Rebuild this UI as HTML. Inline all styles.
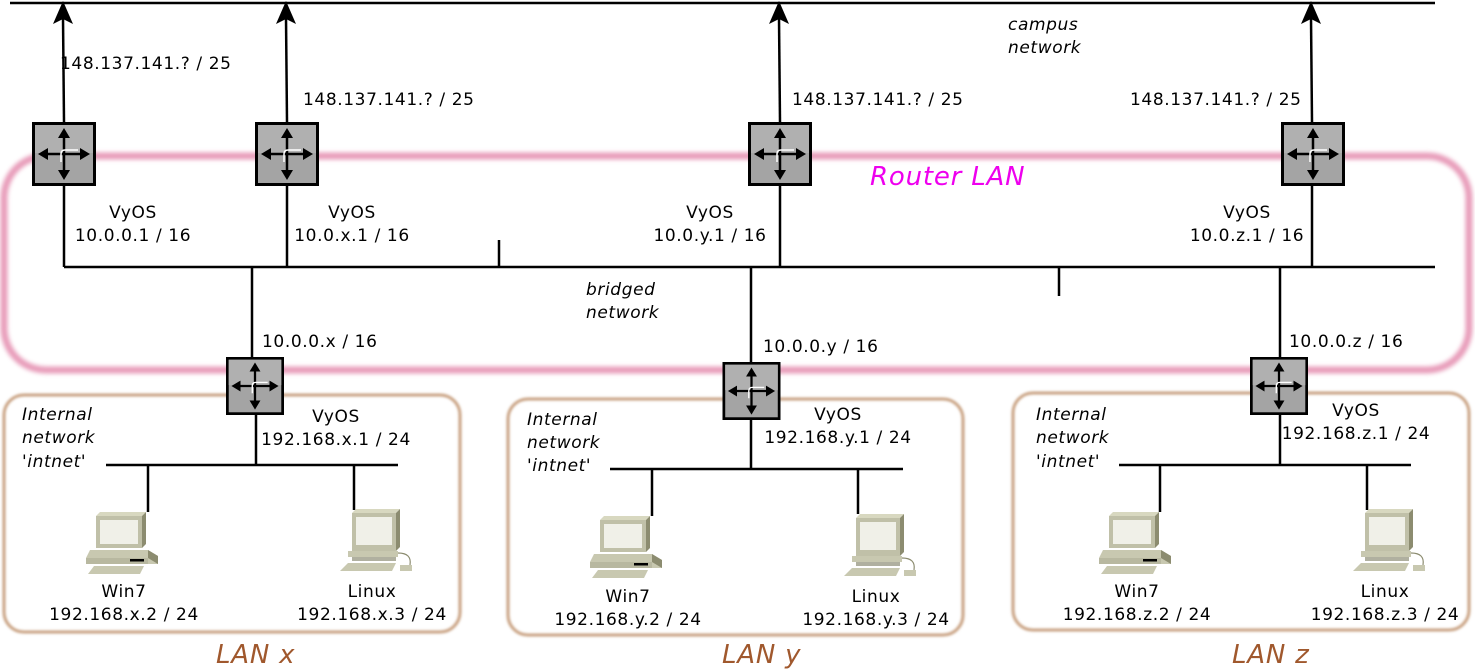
<!DOCTYPE html>
<html><head><meta charset="utf-8"><style>
html,body{margin:0;padding:0;background:#fff;}
svg{display:block;}
text{font-family:"DejaVu Sans","Liberation Sans",sans-serif;font-size:17px;letter-spacing:0.6px;fill:#000;}
.i{font-style:italic;}
</style></head><body>
<svg width="1475" height="671" viewBox="0 0 1475 671" xmlns="http://www.w3.org/2000/svg">
<defs>
<filter id="bl" x="-5%" y="-5%" width="110%" height="110%"><feGaussianBlur stdDeviation="2"/></filter>
<filter id="bl2" x="-5%" y="-5%" width="110%" height="110%"><feGaussianBlur stdDeviation="1.2"/></filter>
<symbol id="rt" viewBox="0 0 64 64">
<rect x="1.5" y="1.5" width="61" height="61" fill="#a4a4a4" stroke="#000" stroke-width="3"/>
<rect x="3" y="3" width="58" height="28" fill="#b0b0b0"/>
<g stroke="#000" stroke-width="2.5" fill="none">
<line x1="32" y1="14" x2="32" y2="50"/><line x1="14" y1="32" x2="50" y2="32"/></g>
<path d="M32,6 L26,16 L38,16Z M32,58 L26,48 L38,48Z M6,32 L16,26 L16,38Z M58,32 L48,26 L48,38Z" fill="#000"/>
<path d="M29,40 V32 Q29,28 33,28 H46" stroke="#fff" stroke-width="1.5" fill="none"/>
</symbol>
<symbol id="win" viewBox="0 0 72 62">
<path d="M4,38 L62,38 L72,44 L72,52 L10,52 L0,46 Z" fill="#c8c8b0"/>
<path d="M62,38 L72,44 L72,52 L62,46Z" fill="#8c8c70"/>
<path d="M0,46 L62,46 L62,52 L0,52Z" fill="#b8b8a0"/>
<rect x="44" y="47" width="14" height="2.5" fill="#000"/>
<path d="M8,54 L58,54 L54,62 L2,62Z" fill="#c8c8b0"/>
<path d="M10,4 L56,4 L60,0 L14,0Z" fill="#d8d8c0"/>
<rect x="10" y="4" width="46" height="32" fill="#c0c0a8"/>
<path d="M56,4 L60,0 L60,32 L56,36Z" fill="#8c8c70"/>
<rect x="14" y="8" width="38" height="24" fill="#f0f0e8"/>
</symbol>
<symbol id="lin" viewBox="0 0 72 62">
<path d="M12,4 L56,4 L60,0 L16,0Z" fill="#d8d8c0"/>
<rect x="12" y="4" width="44" height="38" fill="#c0c0a8"/>
<path d="M56,4 L60,0 L60,38 L56,42Z" fill="#8c8c70"/>
<rect x="16" y="8" width="36" height="28" fill="#f0f0e8"/>
<rect x="8" y="42" width="50" height="6" fill="#c8c8b0"/>
<rect x="12" y="48" width="44" height="4" fill="#b0b0a0"/>
<path d="M8,54 L56,54 L52,62 L0,62Z" fill="#c8c8b0"/>
<path d="M58,44 Q72,44 70,56" stroke="#8c8c70" stroke-width="1.2" fill="none"/>
<rect x="60" y="56" width="12" height="6" fill="#c8c8b0"/>
</symbol>
</defs>

<rect x="4" y="156" width="1465" height="214" rx="42" fill="none" stroke="#e07aa2" stroke-width="7" opacity="0.75" filter="url(#bl)"/>
<g fill="none" stroke="#c8a080" stroke-width="3" filter="url(#bl2)">
<rect x="4" y="395" width="456" height="237" rx="20"/>
<rect x="508" y="399" width="455" height="236" rx="20"/>
<rect x="1013" y="393" width="456" height="237" rx="20"/>
</g>

<g stroke="#000" stroke-width="2.5" fill="none">
<line x1="10" y1="3" x2="1435" y2="3"/>
<line x1="64" y1="267" x2="1435" y2="267"/>
<line x1="499" y1="240" x2="499" y2="267"/>
<line x1="1059" y1="267" x2="1059" y2="296"/>
<line x1="64" y1="122" x2="63" y2="18"/>
<line x1="287" y1="122" x2="286" y2="18"/>
<line x1="780" y1="122" x2="779" y2="18"/>
<line x1="1312" y1="122" x2="1311" y2="18"/>
<line x1="64" y1="186" x2="64" y2="267"/>
<line x1="287" y1="186" x2="287" y2="267"/>
<line x1="780" y1="186" x2="780" y2="267"/>
<line x1="1312" y1="186" x2="1312" y2="267"/>
<line x1="252" y1="267" x2="252" y2="358"/>
<line x1="751" y1="267" x2="751" y2="362"/>
<line x1="1280" y1="267" x2="1280" y2="357"/>
<line x1="106" y1="465" x2="398" y2="465"/>
<line x1="256" y1="414" x2="256" y2="465"/>
<line x1="148" y1="465" x2="148" y2="512"/>
<line x1="354" y1="465" x2="354" y2="510"/>
<line x1="610" y1="469" x2="903" y2="469"/>
<line x1="751" y1="420" x2="751" y2="469"/>
<line x1="652" y1="469" x2="652" y2="516"/>
<line x1="858" y1="469" x2="858" y2="514"/>
<line x1="1119" y1="465" x2="1411" y2="465"/>
<line x1="1280" y1="414" x2="1280" y2="465"/>
<line x1="1160" y1="465" x2="1160" y2="512"/>
<line x1="1367" y1="465" x2="1367" y2="510"/>
</g>
<g fill="#000">
<path d="M63,1 L53,24 L63,19 L73,24Z"/>
<path d="M286,1 L276,24 L286,19 L296,24Z"/>
<path d="M779,1 L769,24 L779,19 L789,24Z"/>
<path d="M1311,1 L1301,24 L1311,19 L1321,24Z"/>
</g>

<use href="#rt" x="32" y="122" width="64" height="64"/>
<use href="#rt" x="255" y="122" width="64" height="64"/>
<use href="#rt" x="748" y="122" width="64" height="64"/>
<use href="#rt" x="1281" y="122" width="64" height="64"/>
<use href="#rt" x="226" y="357" width="58" height="58"/>
<use href="#rt" x="722" y="362" width="59" height="58"/>
<use href="#rt" x="1250" y="357" width="58" height="58"/>

<use href="#win" x="86" y="512" width="72" height="62"/>
<use href="#lin" x="340" y="509" width="72" height="62"/>
<use href="#win" x="590" y="516" width="72" height="62"/>
<use href="#lin" x="844" y="514" width="72" height="62"/>
<use href="#win" x="1099" y="512" width="72" height="62"/>
<use href="#lin" x="1353" y="509" width="72" height="62"/>

<text x="60" y="69">148.137.141.? / 25</text>
<text x="303" y="105">148.137.141.? / 25</text>
<text x="792" y="105">148.137.141.? / 25</text>
<text x="1130" y="105">148.137.141.? / 25</text>
<text class="i" x="1008" y="30">campus</text>
<text class="i" x="1008" y="53">network</text>
<text class="i" x="870" y="185" style="font-size:26px;letter-spacing:0.8px;fill:#ee00ee">Router LAN</text>
<g text-anchor="middle">
<text x="133" y="218">VyOS</text><text x="133" y="241">10.0.0.1 / 16</text>
<text x="352" y="218">VyOS</text><text x="352" y="241">10.0.x.1 / 16</text>
<text x="710" y="218">VyOS</text><text x="710" y="241">10.0.y.1 / 16</text>
<text x="1247" y="218">VyOS</text><text x="1247" y="241">10.0.z.1 / 16</text>
<text x="336" y="422">VyOS</text><text x="336" y="445">192.168.x.1 / 24</text>
<text x="838" y="420">VyOS</text><text x="838" y="443">192.168.y.1 / 24</text>
<text x="1356" y="416">VyOS</text><text x="1356" y="439">192.168.z.1 / 24</text>
<text x="124" y="597">Win7</text><text x="124" y="620">192.168.x.2 / 24</text>
<text x="372" y="597">Linux</text><text x="372" y="620">192.168.x.3 / 24</text>
<text x="628" y="602">Win7</text><text x="628" y="625">192.168.y.2 / 24</text>
<text x="876" y="602">Linux</text><text x="876" y="625">192.168.y.3 / 24</text>
<text x="1137" y="597">Win7</text><text x="1137" y="620">192.168.z.2 / 24</text>
<text x="1385" y="597">Linux</text><text x="1385" y="620">192.168.z.3 / 24</text>
</g>
<text class="i" x="586" y="295">bridged</text>
<text class="i" x="586" y="318">network</text>
<text x="262" y="347">10.0.0.x / 16</text>
<text x="763" y="352">10.0.0.y / 16</text>
<text x="1289" y="347">10.0.0.z / 16</text>
<text class="i" x="22" y="420">Internal</text><text class="i" x="22" y="443">network</text><text class="i" x="22" y="467">'intnet'</text>
<text class="i" x="527" y="425">Internal</text><text class="i" x="527" y="448">network</text><text class="i" x="527" y="471">'intnet'</text>
<text class="i" x="1036" y="420">Internal</text><text class="i" x="1036" y="443">network</text><text class="i" x="1036" y="467">'intnet'</text>
<text class="i" x="216" y="663" style="font-size:26px;letter-spacing:0.8px;fill:#a0582d">LAN x</text>
<text class="i" x="722" y="663" style="font-size:26px;letter-spacing:0.8px;fill:#a0582d">LAN y</text>
<text class="i" x="1232" y="663" style="font-size:26px;letter-spacing:0.8px;fill:#a0582d">LAN z</text>
</svg>
</body></html>
